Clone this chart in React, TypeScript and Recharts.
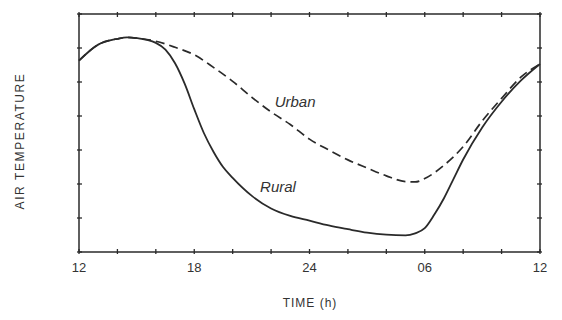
import React from "react";
import {
  LineChart,
  Line,
  XAxis,
  YAxis,
  ReferenceDot,
} from "recharts";

// hours after noon (12 -> 12 next day)
const ruralHours = [0, 1, 2, 2.5, 3, 4, 4.5, 5, 5.5, 6, 6.5, 7, 7.5, 8, 9, 10, 11, 12, 13, 14, 15, 16, 17, 17.5, 18, 18.5, 19, 19.5, 20, 21, 22, 23, 24];
const ruralTemp = [5.63, 6.1, 6.27, 6.31, 6.29, 6.15, 5.95, 5.55, 4.95, 4.2, 3.5, 2.95, 2.5, 2.18, 1.65, 1.28, 1.06, 0.92, 0.78, 0.67, 0.57, 0.51, 0.49, 0.55, 0.7, 1.1, 1.58, 2.15, 2.72, 3.67, 4.42, 5.04, 5.53];

const urbanHours = [0, 1, 2, 2.5, 3, 4, 5, 6, 7, 8, 9, 10, 11, 12, 13, 14, 15, 16, 17, 17.5, 18, 18.5, 19, 19.5, 20, 21, 22, 23, 24];
const urbanTemp = [5.63, 6.1, 6.27, 6.31, 6.29, 6.2, 6.02, 5.8, 5.43, 5.02, 4.55, 4.12, 3.75, 3.32, 3.0, 2.71, 2.47, 2.24, 2.07, 2.06, 2.16, 2.33, 2.55, 2.8, 3.1, 3.86, 4.52, 5.14, 5.53];

const xTicks = [0, 2, 4, 6, 8, 10, 12, 14, 16, 18, 20, 22, 24];
const xLabels = ["12", "18", "24", "06", "12"];
const yTicks = [0, 1, 2, 3, 4, 5, 6, 7];

const rural = ruralHours.map((h, i) => ({ h, t: ruralTemp[i] }));
const urban = urbanHours.map((h, i) => ({ h, t: urbanTemp[i] }));

const INK = "#2a2a2a";
const FONT = "'Liberation Sans', Arial, sans-serif";
const TICK = 5;

const BottomTick = ({ x, y, payload }: any) => {
  const v = payload.value;
  return (
    <g>
      <line x1={x} x2={x} y1={y} y2={y - TICK} stroke={INK} strokeWidth={1.3} />
      {v % 6 === 0 && (
        <text x={x} y={y + 18} textAnchor="middle" fontSize={13} fill="#333" fontFamily={FONT}>
          {xLabels[v / 6]}
        </text>
      )}
    </g>
  );
};

const TopTick = ({ x, y }: any) => (
  <line x1={x} x2={x} y1={y} y2={y + TICK} stroke={INK} strokeWidth={1.3} />
);

const LeftTick = ({ x, y }: any) => (
  <line x1={x} x2={x + TICK} y1={y} y2={y} stroke={INK} strokeWidth={1.3} />
);

const RightTick = ({ x, y }: any) => (
  <line x1={x} x2={x - TICK} y1={y} y2={y} stroke={INK} strokeWidth={1.3} />
);

export default function App() {
  return (
    <div style={{ position: "absolute", left: 0, top: 0, background: "#fff" }}>
      <LineChart
        width={562}
        height={320}
        margin={{ top: 13, right: 21, bottom: 0, left: 0 }}
      >
        <XAxis
          dataKey="h"
          type="number"
          domain={[0, 24]}
          ticks={xTicks}
          height={68}
          tickSize={0}
          tickLine={false}
          axisLine={{ stroke: INK, strokeWidth: 1.5 }}
          tick={<BottomTick />}
          interval={0}
          label={{
            content: () => (
              <text x={310} y={307} textAnchor="middle" fontSize={12} letterSpacing={1} fill="#333" fontFamily={FONT}>
                TIME (h)
              </text>
            ),
          }}
        />
        <XAxis
          xAxisId="top"
          orientation="top"
          dataKey="h"
          type="number"
          domain={[0, 24]}
          ticks={xTicks}
          height={1}
          tickSize={0}
          tickLine={false}
          interval={0}
          axisLine={{ stroke: INK, strokeWidth: 1.5 }}
          tick={<TopTick />}
        />
        <YAxis
          type="number"
          domain={[0, 7]}
          ticks={yTicks}
          width={79}
          tickSize={0}
          tickLine={false}
          interval={0}
          axisLine={{ stroke: INK, strokeWidth: 1.5 }}
          tick={<LeftTick />}
          label={{
            content: () => (
              <text
                x={24}
                y={141}
                transform="rotate(-90 24 141)"
                textAnchor="middle"
                fontSize={12}
                letterSpacing={1.6}
                fill="#333"
                fontFamily={FONT}
              >
                AIR TEMPERATURE
              </text>
            ),
          }}
        />
        <YAxis
          yAxisId="right"
          orientation="right"
          type="number"
          domain={[0, 7]}
          ticks={yTicks}
          width={1}
          tickSize={0}
          tickLine={false}
          interval={0}
          axisLine={{ stroke: INK, strokeWidth: 1.5 }}
          tick={<RightTick />}
        />
        <Line
          data={urban}
          dataKey="t"
          type="monotone"
          stroke={INK}
          strokeWidth={1.7}
          strokeDasharray="9 5"
          dot={false}
          isAnimationActive={false}
        />
        <Line
          data={rural}
          dataKey="t"
          type="monotone"
          stroke={INK}
          strokeWidth={1.8}
          dot={false}
          isAnimationActive={false}
        />
        <Line
          data={rural}
          dataKey="t"
          xAxisId="top"
          yAxisId="right"
          stroke="none"
          dot={false}
          legendType="none"
          isAnimationActive={false}
        />
        <ReferenceDot
          x={11.25}
          y={4.41}
          r={0}
          fill="none"
          stroke="none"
          label={{ value: "Urban", position: "center", fontSize: 15, fontStyle: "italic", fill: "#333", fontFamily: FONT }}
        />
        <ReferenceDot
          x={10.36}
          y={1.91}
          r={0}
          fill="none"
          stroke="none"
          label={{ value: "Rural", position: "center", fontSize: 15, fontStyle: "italic", fill: "#333", fontFamily: FONT }}
        />
      </LineChart>
    </div>
  );
}
